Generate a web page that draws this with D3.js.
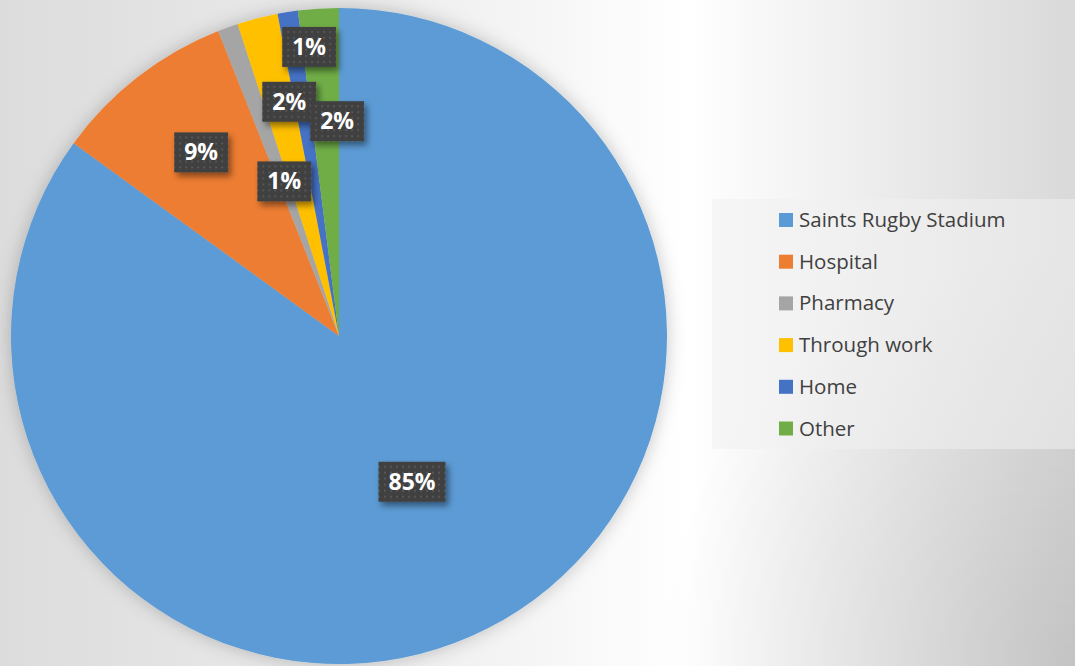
<!DOCTYPE html>
<html>
<head>
<meta charset="utf-8">
<script src="https://cdn.jsdelivr.net/npm/d3@7"></script>
<style>
  html, body { margin:0; padding:0; background:#fff; }
  svg { display:block; }
</style>
</head>
<body>
<div id="chart-area"></div>
<script>
// data
const categories = ["Saints Rugby Stadium", "Hospital", "Pharmacy", "Through work", "Home", "Other"];
const shares = [85, 9, 1, 2, 1, 2];
const shareLabels = ["85%", "9%", "1%", "2%", "1%", "2%"];
const colors = ["#5B9BD5", "#ED7D31", "#A5A5A5", "#FFC000", "#4472C4", "#70AD47"];

// label placement (best-fit style): fraction of radius, angle nudge in degrees
const labelRadius = [0.497, 0.70, 0.50, 0.73, 0.886, 0.655];
const labelNudge = [0.4, 0.9, 0.3, 2.4, 3.1, 3.1];

const W = 1075, H = 666;
const cx = 339, cy = 336, R = 328;

const svg = d3.select("#chart-area")
    .append("svg")
    .attr("width", W)
    .attr("height", H);

const defs = svg.append("defs");

// background: white band round x=700, grey on both sides, darker bottom-right
const bg = defs.append("linearGradient").attr("id", "bg")
    .attr("x1", "0").attr("y1", "0").attr("x2", "1").attr("y2", "0");
bg.append("stop").attr("offset", "0").attr("stop-color", "#dcdcdc");
bg.append("stop").attr("offset", "0.35").attr("stop-color", "#ececec");
bg.append("stop").attr("offset", "0.64").attr("stop-color", "#ffffff");
bg.append("stop").attr("offset", "1").attr("stop-color", "#d9d9d9");

const bg2 = defs.append("radialGradient").attr("id", "bg2")
    .attr("gradientUnits", "userSpaceOnUse")
    .attr("cx", 1075).attr("cy", 666).attr("r", 420);
bg2.append("stop").attr("offset", "0").attr("stop-color", "#000").attr("stop-opacity", 0.1);
bg2.append("stop").attr("offset", "1").attr("stop-color", "#000").attr("stop-opacity", 0);

svg.append("rect").attr("width", W).attr("height", H).attr("fill", "url(#bg)");
svg.append("rect").attr("width", W).attr("height", H).attr("fill", "url(#bg2)");

// soft shadow round the pie
const pieShadow = defs.append("filter").attr("id", "pieShadow")
    .attr("x", "-10%").attr("y", "-10%").attr("width", "120%").attr("height", "120%");
pieShadow.append("feDropShadow")
    .attr("dx", 0).attr("dy", 0).attr("stdDeviation", 9)
    .attr("flood-color", "#000").attr("flood-opacity", 0.22);

// shadow under the label boxes
const boxShadow = defs.append("filter").attr("id", "boxShadow")
    .attr("x", "-30%").attr("y", "-30%").attr("width", "160%").attr("height", "160%");
boxShadow.append("feDropShadow")
    .attr("dx", 3).attr("dy", 4).attr("stdDeviation", 3)
    .attr("flood-color", "#000").attr("flood-opacity", 0.45);

// dotted texture of the label boxes
const dots = defs.append("pattern").attr("id", "dots")
    .attr("patternUnits", "userSpaceOnUse")
    .attr("width", 6).attr("height", 6);
dots.append("rect").attr("width", 6).attr("height", 6).attr("fill", "#404040");
dots.append("circle").attr("cx", 3).attr("cy", 3).attr("r", 1.2).attr("fill", "#545454");

const pie = d3.pie().sort(null).value(d => d);
const arcs = pie(shares);
const arc = d3.arc().innerRadius(0).outerRadius(R);

const g = svg.append("g")
    .attr("transform", "translate(" + cx + "," + cy + ")");

g.append("g")
    .attr("filter", "url(#pieShadow)")
    .selectAll("path")
    .data(arcs)
    .enter()
    .append("path")
        .attr("d", arc)
        .attr("fill", (d, i) => colors[i]);

// data labels
const lab = g.selectAll(".data-label")
    .data(arcs)
    .enter()
    .append("g")
        .attr("class", "data-label")
        .attr("transform", function(d, i){
            const a = (d.startAngle + d.endAngle) / 2 + labelNudge[i] * Math.PI / 180;
            const r = labelRadius[i] * R;
            return "translate(" + (r * Math.sin(a)) + "," + (-r * Math.cos(a)) + ")";
        });

const boxes = lab.append("rect")
    .attr("fill", "url(#dots)")
    .attr("filter", "url(#boxShadow)");

const texts = lab.append("text")
    .attr("text-anchor", "middle")
    .attr("y", 8)
    .attr("fill", "#ffffff")
    .attr("font-family", "'Open Sans', sans-serif")
    .attr("font-weight", "bold")
    .attr("font-size", "23px")
    .text((d, i) => shareLabels[i]);

texts.each(function(d, i){
    const w = this.getComputedTextLength() + 20;
    d3.select(boxes.nodes()[i])
        .attr("x", -w / 2).attr("y", -20)
        .attr("width", w).attr("height", 40);
});

// legend
const legend = svg.append("g")
    .attr("transform", "translate(712,199)");

legend.append("rect")
    .attr("width", W - 712).attr("height", 250)
    .attr("fill", "#f0f0f0").attr("fill-opacity", 0.55);

const rows = legend.selectAll(".legend-row")
    .data(categories)
    .enter()
    .append("g")
        .attr("class", "legend-row")
        .attr("transform", (d, i) => "translate(67," + (14 + i * 41.7) + ")");

rows.append("rect")
    .attr("width", 14).attr("height", 14)
    .attr("fill", (d, i) => colors[i]);

rows.append("text")
    .attr("x", 20).attr("y", 14)
    .attr("fill", "#404040")
    .attr("font-family", "'Open Sans', sans-serif")
    .attr("font-size", "20.5px")
    .text(d => d);
</script>
</body>
</html>
